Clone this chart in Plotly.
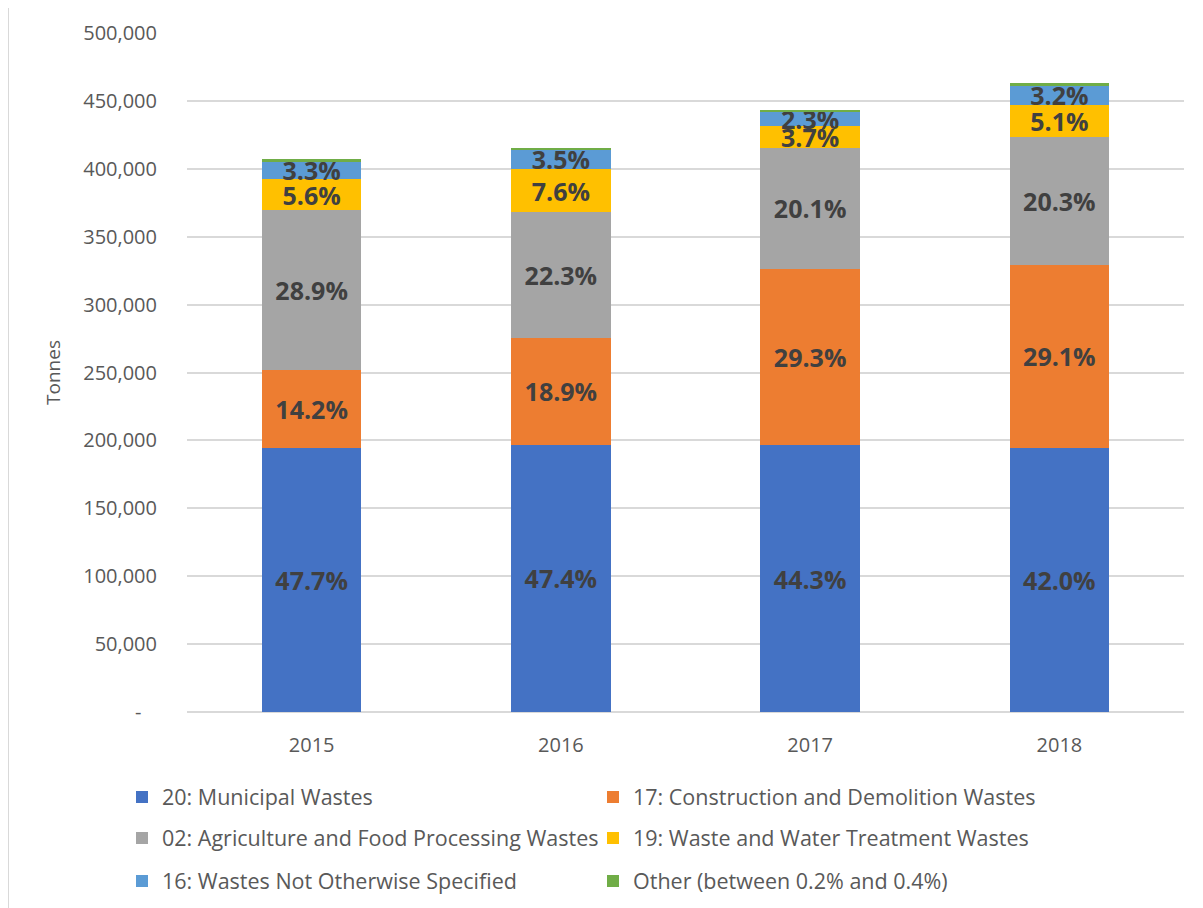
import plotly.graph_objects as go

YEARS = ["2015", "2016", "2017", "2018"]

# tonnes per waste chapter
MUNICIPAL = [194100, 196900, 196400, 194500]
CONSTRUCTION = [57800, 78500, 129900, 134800]
AGRICULTURE = [117600, 92600, 89100, 94000]
WASTE_WATER = [22800, 31600, 16400, 23600]
NOT_SPECIFIED = [13400, 14500, 10200, 14800]
OTHER = [1200, 1200, 1300, 1400]

# share labels printed on the segments
MUNICIPAL_PCT = ["47.7%", "47.4%", "44.3%", "42.0%"]
CONSTRUCTION_PCT = ["14.2%", "18.9%", "29.3%", "29.1%"]
AGRICULTURE_PCT = ["28.9%", "22.3%", "20.1%", "20.3%"]
WASTE_WATER_PCT = ["5.6%", "7.6%", "3.7%", "5.1%"]
NOT_SPECIFIED_PCT = ["3.3%", "3.5%", "2.3%", "3.2%"]
OTHER_PCT = ["", "", "", ""]

Y_TICKS = [0, 50000, 100000, 150000, 200000, 250000, 300000, 350000, 400000, 450000, 500000]

FONT = "Open Sans, Noto Sans, sans-serif"
TXT = "#595959"
GRID = "#d9d9d9"

# the page body has an 8px margin, so the figure starts at (8, 8)
OFF = 8
W, H = 1203 - OFF, 908 - OFF
L, R, T, B = 187 - OFF, 19, 33 - OFF, 196


def px_x(x):
    return (x - OFF - L) / (W - L - R)


def px_y(y):
    return (H - B - (y - OFF)) / (H - T - B)


series = [
    ("20: Municipal Wastes", MUNICIPAL, MUNICIPAL_PCT, "#4472C4", "legend"),
    ("17: Construction and Demolition Wastes", CONSTRUCTION, CONSTRUCTION_PCT, "#ED7D31", "legend"),
    ("02: Agriculture and Food Processing Wastes", AGRICULTURE, AGRICULTURE_PCT, "#A5A5A5", "legend2"),
    ("19: Waste and Water Treatment Wastes", WASTE_WATER, WASTE_WATER_PCT, "#FFC000", "legend2"),
    ("16: Wastes Not Otherwise Specified", NOT_SPECIFIED, NOT_SPECIFIED_PCT, "#5B9BD5", "legend3"),
    ("Other (between 0.2% and 0.4%)", OTHER, OTHER_PCT, "#70AD47", "legend3"),
]

fig = go.Figure()
for name, vals, labels, color, leg in series:
    fig.add_bar(x=YEARS, y=vals, name=name, marker_color=color, marker_line_width=0,
                text=labels, textposition="inside", insidetextanchor="middle",
                constraintext="none", cliponaxis=False,
                textfont=dict(family=FONT, size=25, color="#404040", weight="bold"),
                legend=leg, hovertemplate=name + "<br>%{x}: %{y:,.0f} t<extra></extra>")

leg_common = dict(orientation="h", x=px_x(122), xanchor="left", yanchor="middle",
                  entrywidth=426, entrywidthmode="pixels", itemwidth=30,
                  bgcolor="rgba(0,0,0,0)", font=dict(family=FONT, size=21.5, color=TXT),
                  traceorder="normal")

fig.update_layout(
    width=W, height=H, barmode="stack", bargap=0.6,
    margin=dict(l=L, r=R, t=T, b=B, autoexpand=False),
    paper_bgcolor="white", plot_bgcolor="white",
    font=dict(family=FONT, color=TXT),
    uniformtext=dict(minsize=25, mode="show"),
    legend=dict(y=px_y(797), **leg_common),
    legend2=dict(y=px_y(838), **leg_common),
    legend3=dict(y=px_y(881), **leg_common),
    shapes=[
        dict(type="line", xref="paper", yref="paper", x0=px_x(8), x1=px_x(1203),
             y0=px_y(6), y1=px_y(6), line=dict(color=GRID, width=2)),
        dict(type="line", xref="paper", yref="paper", x0=px_x(8), x1=px_x(8),
             y0=px_y(6), y1=px_y(908), line=dict(color=GRID, width=2)),
    ],
)

fig.update_xaxes(showgrid=False, showline=False, ticks="",
                 tickfont=dict(family=FONT, size=20, color=TXT), ticklabelstandoff=19)
fig.update_yaxes(range=[0, 500000], tickvals=Y_TICKS,
                 ticktext=["-\u00a0\u00a0\u00a0"] + [f"{v:,}" for v in Y_TICKS[1:]],
                 gridcolor=GRID, gridwidth=1.5, zeroline=True, zerolinecolor=GRID, zerolinewidth=1.5,
                 showline=False, ticks="", ticklabelstandoff=29,
                 tickfont=dict(family=FONT, size=20, color=TXT),
                 title=dict(text="Tonnes", font=dict(family=FONT, size=19, color=TXT), standoff=17))

fig.write_html("out.html")
